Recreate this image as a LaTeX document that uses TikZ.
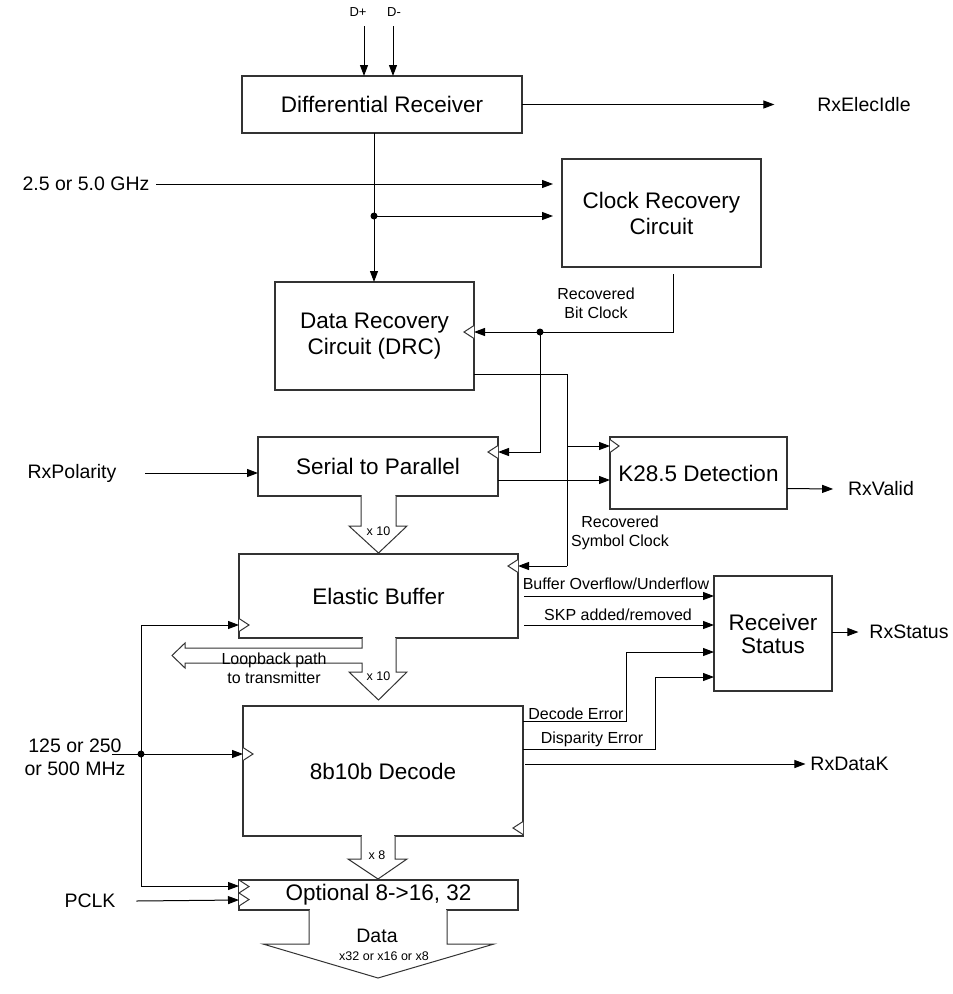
\documentclass[tikz,border=0pt]{standalone}
\usepackage{fontspec}
\setmainfont{Liberation Sans}
\usetikzlibrary{arrows.meta}
\newcommand\clkmark[2]{\draw[clkst] ([yshift=6.5pt]#1) -- ([xshift=#2]#1) -- ([yshift=-6.5pt]#1);}
\begin{document}
\begin{tikzpicture}[x=1pt,y=-1pt,
  box/.style={draw=black!80, line width=1.2pt, fill=white, inner sep=0pt, outer sep=0pt, align=center, font=\fontsize{22.5}{26}\selectfont},
  sig/.style={inner sep=0pt, outer sep=0pt, font=\fontsize{19.5}{23}\selectfont, align=center},
  lbl/.style={inner sep=0pt, outer sep=0pt, font=\fontsize{16}{19}\selectfont, align=center},
  tinylbl/.style={inner sep=0pt, outer sep=0pt, font=\fontsize{12.5}{15}\selectfont},
  arr/.style={draw=black, line width=1pt, -{Triangle[length=11pt,width=8pt]}},
  wire/.style={draw=black, line width=1pt},
  fat/.style={draw=black!80, line width=1pt, fill=white},
  clkst/.style={draw=black!80, line width=1pt, fill=white},
  dot/.style={fill=black}]
\useasboundingbox[fill=white] (0,0) rectangle (953,994);

% boxes
\node[box, minimum width=280, minimum height=57] (dr) at (382,104.5) {Differential Receiver};
\node[box, minimum width=199, minimum height=108] (crc) at (661.5,213) {Clock Recovery\\Circuit};
\node[box, minimum width=199, minimum height=108] (drc) at (374.5,336) {Data Recovery\\Circuit (DRC)};
\node[box, minimum width=240, minimum height=59] (s2p) at (378,466.5) {Serial to Parallel};
\node[box, minimum width=177, minimum height=72] (k28) at (698.5,473) {K28.5 Detection};
\node[box, minimum width=279, minimum height=84] (eb) at (378.5,596) {Elastic Buffer};
\node[box, minimum width=118, minimum height=115] (rs) at (773,633.5) {Receiver\\[-3pt]Status};
\node[box, minimum width=280, minimum height=130] (dec) at (383,771) {8b10b Decode};
\node[box, minimum width=279, minimum height=30] (opt) at (378.5,895) {Optional 8->16, 32};

% labels
\node[tinylbl, font=\fontsize{13}{15}\selectfont] (dpl) at (358,12) {D+};
\node[tinylbl, font=\fontsize{13}{15}\selectfont] (dml) at (394,12) {D-};
\node[sig] (rxei) at (864,104.5) {RxElecIdle};
\node[sig] (ghz) at (86,184) {2.5 or 5.0 GHz};
\node[lbl] (rbc) at (596,303) {Recovered\\Bit Clock};
\node[sig] (rxpol) at (72,473) {RxPolarity};
\node[sig] (rxv) at (881,489) {RxValid};
\node[lbl] (rsc) at (620,532.5) {Recovered\\Symbol Clock};
\node[lbl] (bou) at (616,584) {Buffer Overflow/Underflow};
\node[lbl] (skp) at (618,615) {SKP added/removed};
\node[sig] (rxs) at (909,632) {RxStatus};
\node[lbl] (decerr) at (576,714) {Decode Error};
\node[lbl] (disperr) at (592,739) {Disparity Error};
\node[sig] (mhz) at (75,757) {125 or 250\\or 500 MHz};
\node[sig] (rxdk) at (849.5,764) {RxDataK};
\node[sig] (pclk) at (90,901) {PCLK};

% coordinates
\coordinate (dp0) at (364,26);
\coordinate (dm0) at (393,26);
\coordinate (j1) at (374,216);
\coordinate (crcin1) at (553,184);
\coordinate (crcin2) at (553,216);
\coordinate (bc0) at (673,274);
\coordinate (bcj) at (540,332);
\coordinate (bcs) at (498,452);
\coordinate (sc0) at (567,374);
\coordinate (sck) at (567,446);
\coordinate (sce) at (567,566);
\coordinate (s2pout) at (498,480);
\coordinate (k28out) at (787,488.5);
\coordinate (boo) at (524,596);
\coordinate (skpo) at (524,625);
\coordinate (deo) at (523,721);
\coordinate (dpo) at (523,749);
\coordinate (rso) at (832,632);
\coordinate (dko) at (525,764);
\coordinate (ck0) at (141,886);
\coordinate (cj) at (141,754);
\coordinate (mhzl) at (112,754);
\coordinate (ebclk) at (239,625);

% top connectors
\draw[arr] (dp0) -- (dp0 |- dr.north);
\draw[arr] (dm0) -- (dm0 |- dr.north);
\draw[arr] (dr.east) -- ([xshift=-43pt]rxei.west);
\draw[arr] ([xshift=7pt]ghz.east) -- (crcin1);
\draw[arr] (j1 |- dr.south) -- (j1 |- drc.north);
\draw[arr] (j1) -- (crcin2);
\fill[dot] (j1) circle (3.5);

% bit clock
\draw[wire] (bc0) |- (bcj);
\draw[arr] (bcj) -- (drc.east |- bcj);
\draw[arr] (bcj) |- (bcs);
\fill[dot] (bcj) circle (3.5);

% symbol clock
\draw[wire] (drc.east |- sc0) -- (sc0) -- (sce);
\draw[arr] (sce) -- (eb.east |- sce);
\draw[arr] (sck) -- (k28.west |- sck);

% serial to parallel
\draw[arr] ([xshift=29pt]rxpol.east) -- (s2p.west |- rxpol);
\draw[arr] (s2pout) -- (k28.west |- s2pout);
\draw[arr] (k28out) -- ([xshift=-15pt]rxv.west);

% receiver status
\draw[arr] (boo) -- (rs.west |- boo);
\draw[arr] (skpo) -- (rs.west |- skpo);
\draw[arr] (deo) -- (626,721) -- (626,652) -- (rs.west |- 0,652);
\draw[arr] (dpo) -- (655,749) -- (655,677) -- (rs.west |- 0,677);
\draw[arr] (rso) -- ([xshift=-11pt]rxs.west);
\draw[arr] (dko) -- ([xshift=-5pt]rxdk.west);

% clocks
\draw[arr] (ck0) |- (ebclk);
\draw[arr] (ck0) -- (opt.west |- ck0);
\draw[wire] (mhzl) -- (cj);
\draw[arr] (cj) -- (dec.west |- cj);
\fill[dot] (cj) circle (3.5);
\draw[arr] ([xshift=21pt]pclk.east) -- (opt.west |- 0,900);

% fat arrows
\fill[white] (362,494) rectangle (395,497);
\draw[fat] (361,495.5) -- (361,526) -- (349,526) -- (378.5,553) -- (407,526) -- (396,526) -- (396,495.5);
\fill[white] (363,637) rectangle (395,640);
\draw[fat] (362,638) -- (362,648) -- (185,648) -- (185,643) -- (172,655.5) -- (185,668) -- (185,663) -- (362,663) -- (362,672) -- (349,672) -- (378.5,700) -- (407,672) -- (396,672) -- (396,638);
\fill[white] (362,835) rectangle (394,838);
\draw[fat] (361,836) -- (361,859) -- (348,859) -- (378,879) -- (407,859) -- (395,859) -- (395,836);
\fill[white] (310,909) rectangle (446,912);
\draw[fat] (309,910) -- (309,944) -- (263,944) -- (378,978) -- (494,944) -- (447,944) -- (447,910);

% labels on fat arrows
\node[tinylbl] (x10a) at (378.5,531) {x 10};
\node[lbl] (loop) at (274,668.5) {Loopback path\\to transmitter};
\node[tinylbl] (x10b) at (378.5,676) {x 10};
\node[tinylbl] (x8) at (377,855) {x 8};
\node[sig] (data) at (377,936) {Data};
\node[tinylbl] (datax) at (384,956) {x32 or x16 or x8};

% clock marks
\coordinate (c1) at (474,332); \clkmark{c1}{-10pt}
\coordinate (c2) at (498,452); \clkmark{c2}{-10pt}
\coordinate (c3) at (610,446); \clkmark{c3}{9pt}
\coordinate (c4) at (518,566); \clkmark{c4}{-10pt}
\coordinate (c5) at (239,625); \clkmark{c5}{10pt}
\coordinate (c6) at (243,754); \clkmark{c6}{10pt}
\coordinate (c7) at (523,828); \clkmark{c7}{-10pt}
\coordinate (c8) at (239,886.5); \clkmark{c8}{10pt}
\coordinate (c9) at (239,899.5); \clkmark{c9}{10pt}
\end{tikzpicture}
\end{document}
